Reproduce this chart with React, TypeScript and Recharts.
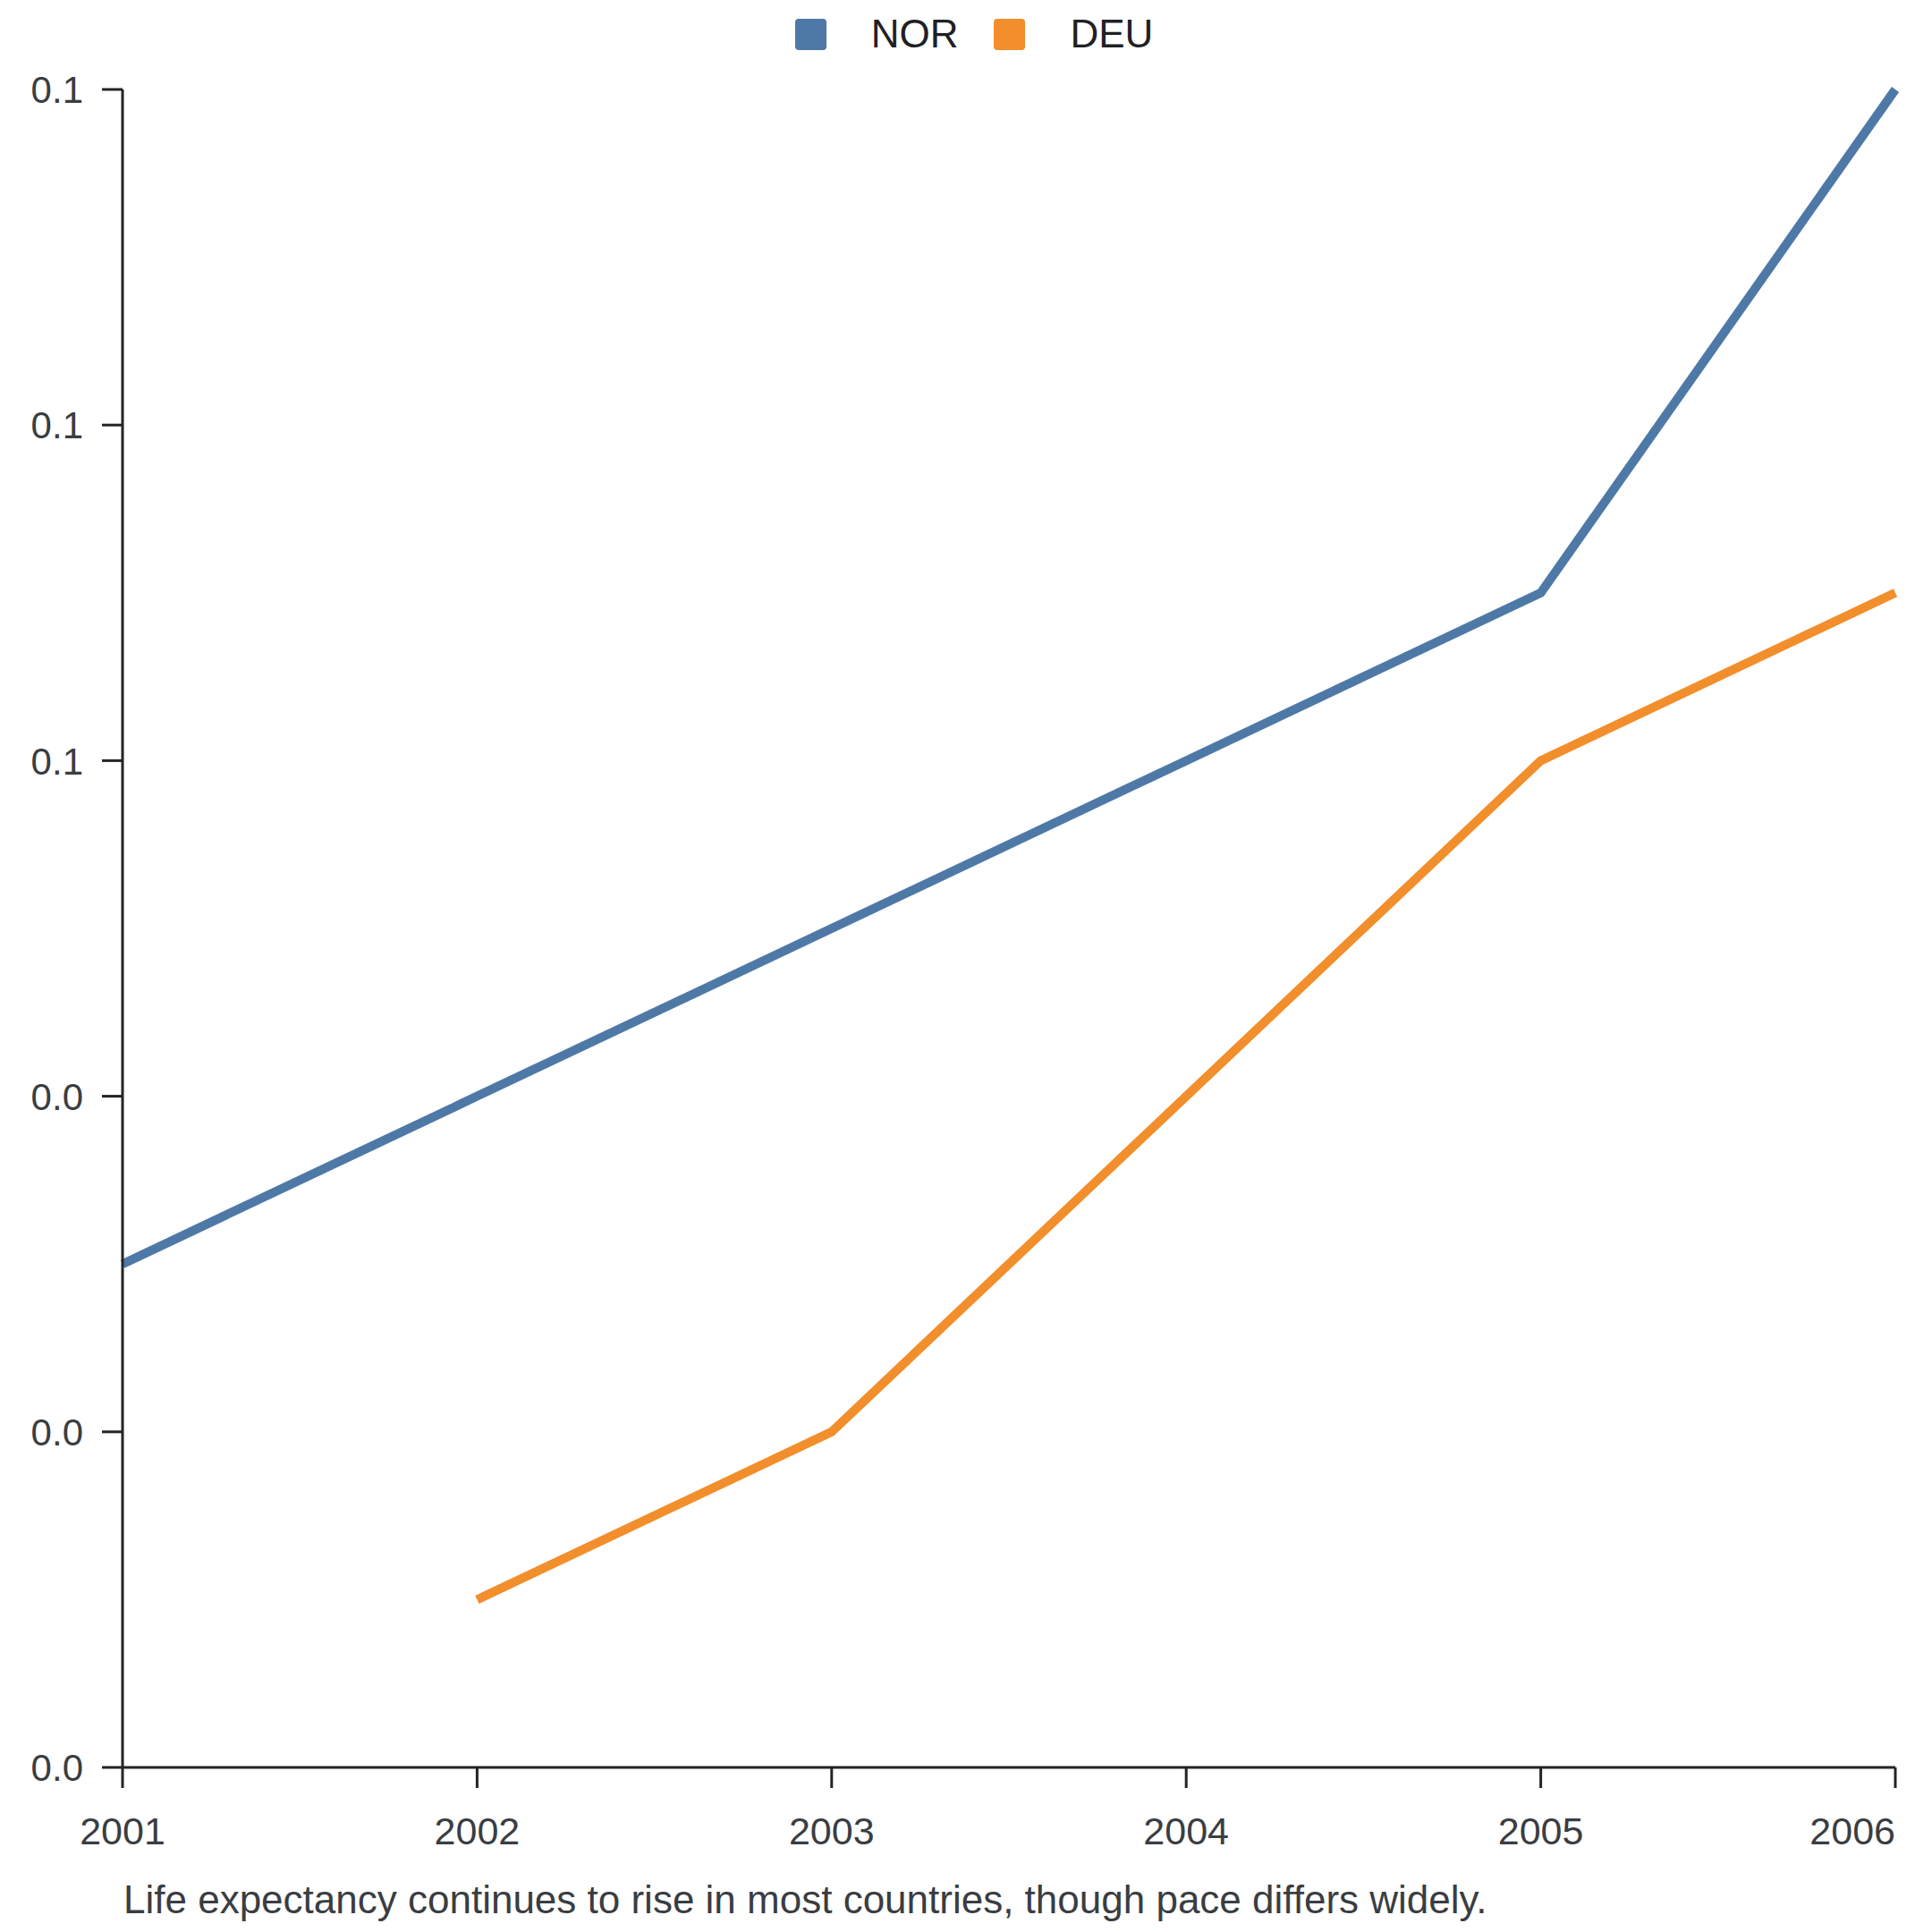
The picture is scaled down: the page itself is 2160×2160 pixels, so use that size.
import React from 'react';
import { LineChart, Line, XAxis, YAxis, Legend } from 'recharts';

const years = ['2001', '2002', '2003', '2004', '2005', '2006'];
const nor = [0.03, 0.04, 0.05, 0.06, 0.07, 0.1];
const deu = [null, 0.01, 0.02, 0.04, 0.06, 0.07];
const yTicks = [0, 0.02, 0.04, 0.06, 0.08, 0.1];
const caption = 'Life expectancy continues to rise in most countries, though pace differs widely.';

const series = [
  { key: 'NOR', color: '#4e79a7' },
  { key: 'DEU', color: '#f28e2b' },
];

const data = years.map((year, i) => ({ year, NOR: nor[i], DEU: deu[i] }));

const FONT = '"Liberation Sans", Arial, sans-serif';

const XTick = (props: any) => {
  const { x, y, payload, index } = props;
  const last = index === years.length - 1;
  return (
    <text x={x} y={y + 61} textAnchor={last ? 'end' : 'middle'} fontSize={43} fill="#3a3d42" fontFamily={FONT}>
      {payload.value}
    </text>
  );
};

const YTick = (props: any) => {
  const { x, y, payload } = props;
  return (
    <text x={x - 19} y={y} dy="0.36em" textAnchor="end" fontSize={42} fill="#3a3d42" fontFamily={FONT}>
      {Number(payload.value).toFixed(1)}
    </text>
  );
};

const LegendBox = () => (
  <div style={{ display: 'flex', justifyContent: 'center', alignItems: 'center', height: 60, paddingLeft: 10, fontFamily: FONT }}>
    {series.map((s, i) => (
      <div key={s.key} style={{ display: 'flex', alignItems: 'center', marginLeft: i === 0 ? 0 : 40 }}>
        <div style={{ width: 35, height: 35, borderRadius: 4, background: s.color }} />
        <span style={{ marginLeft: 50, fontSize: 44, color: '#1f2125' }}>{s.key}</span>
      </div>
    ))}
  </div>
);

const CaptionLabel = (props: any) => {
  const { viewBox } = props;
  return (
    <text x={viewBox.x + 1} y={viewBox.y + 163} fontSize={44} fill="#3a3d42" fontFamily={FONT}>
      {caption}
    </text>
  );
};

export default function App() {
  return (
    <div style={{ width: 2152, height: 2152, background: '#fff' }}>
      <LineChart width={2152} height={2150} data={data} margin={{ top: 32, right: 41, left: 0, bottom: 0 }}>
        <Legend verticalAlign="top" align="center" content={<LegendBox />} wrapperStyle={{ top: 0, left: 0, width: 2152 }} />
        <XAxis
          dataKey="year"
          height={182}
          stroke="#222428"
          strokeWidth={3}
          tickSize={23}
          tickLine={{ stroke: '#222428', strokeWidth: 3 }}
          tick={<XTick />}
          interval={0}
          label={<CaptionLabel />}
        />
        <YAxis
          width={129}
          domain={[0, 0.1]}
          ticks={yTicks}
          stroke="#222428"
          strokeWidth={3}
          tickSize={23}
          tickLine={{ stroke: '#222428', strokeWidth: 3 }}
          tick={<YTick />}
          interval={0}
        />
        {series.map((s) => (
          <Line
            key={s.key}
            dataKey={s.key}
            stroke={s.color}
            strokeWidth={10}
            dot={false}
            activeDot={false}
            type="linear"
            isAnimationActive={false}
          />
        ))}
      </LineChart>
    </div>
  );
}
